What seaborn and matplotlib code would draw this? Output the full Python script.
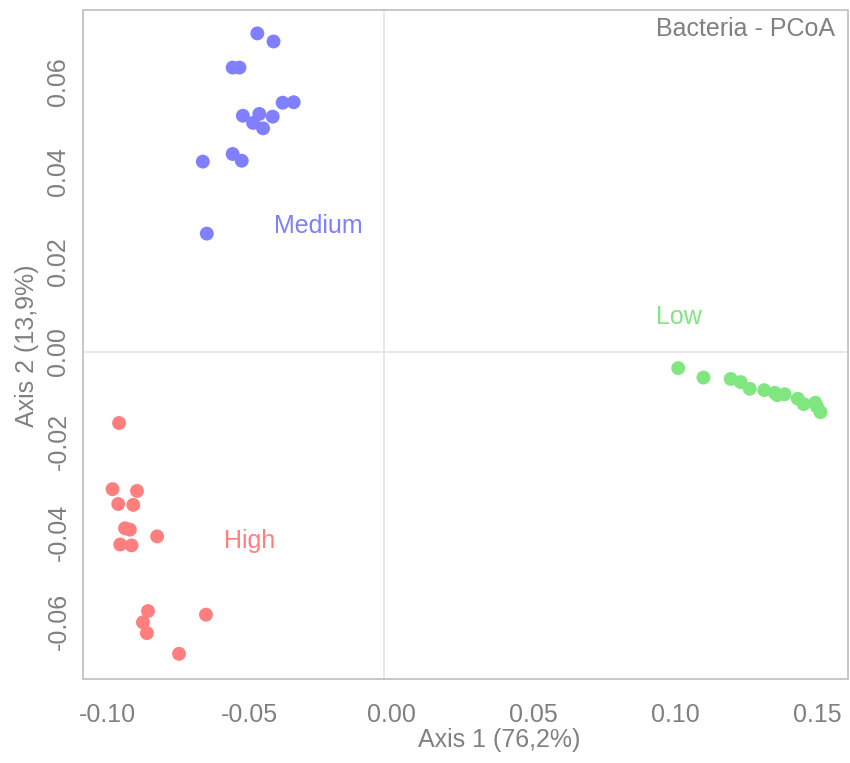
import matplotlib
matplotlib.use("Agg")
import matplotlib.pyplot as plt
from matplotlib.transforms import ScaledTranslation
from matplotlib.patches import Rectangle
import seaborn as sns
import pandas as pd

# ---- data ----
medium_x = [-0.0446, -0.0389, -0.0533, -0.0509, -0.0357, -0.0318, -0.0497, -0.0439,
            -0.0392, -0.0461, -0.0426, -0.0533, -0.0501, -0.0638, -0.0624]
medium_y = [0.0708, 0.0690, 0.0632, 0.0632, 0.0554, 0.0555, 0.0525, 0.0529,
            0.0523, 0.0509, 0.0497, 0.0440, 0.0425, 0.0423, 0.0263]
high_x = [-0.0933, -0.0956, -0.0870, -0.0936, -0.0883, -0.0912, -0.0895, -0.0929,
          -0.0889, -0.0799, -0.0831, -0.0849, -0.0835, -0.0627, -0.0722]
high_y = [-0.0158, -0.0305, -0.0309, -0.0338, -0.0340, -0.0392, -0.0395, -0.0428,
          -0.0430, -0.0410, -0.0576, -0.0601, -0.0625, -0.0584, -0.0671]
low_x = [0.1036, 0.1125, 0.1221, 0.1256, 0.1288, 0.1339, 0.1376, 0.1385,
         0.1411, 0.1457, 0.1478, 0.1519, 0.1525, 0.1537]
low_y = [-0.0036, -0.0057, -0.0060, -0.0067, -0.0082, -0.0085, -0.0091, -0.0096,
         -0.0094, -0.0104, -0.0116, -0.0113, -0.0122, -0.0134]

groups = ["High", "Low", "Medium"]
colors = {"High": "#FF7F7F", "Low": "#80E680", "Medium": "#7F7FFF"}
xticks = [-0.10, -0.05, 0.00, 0.05, 0.10, 0.15]
xticklabels = ["-0.10", "-0.05", "0.00", "0.05", "0.10", "0.15"]
yticks = [-0.06, -0.04, -0.02, 0.00, 0.02, 0.04, 0.06]
yticklabels = ["-0.06", "-0.04", "-0.02", "0.00", "0.02", "0.04", "0.06"]
group_label_pos = {"Medium": (-0.0231, 0.028), "High": (-0.0472, -0.042), "Low": (0.1039, 0.0078)}

df = pd.DataFrame({
    "x": medium_x + high_x + low_x,
    "y": medium_y + high_y + low_y,
    "group": ["Medium"] * len(medium_x) + ["High"] * len(high_x) + ["Low"] * len(low_x),
})

sns.set_style("white")
plt.rcParams["font.family"] = ["Liberation Sans", "DejaVu Sans"]
plt.rcParams["axes.unicode_minus"] = False

TXT = "#808080"
FS = 18

fig = plt.figure(figsize=(8.5, 7.63), dpi=100)
ax = fig.add_axes([83 / 850, 1 - 679 / 763, 765 / 850, 669 / 763])

ax.axhline(0, color="#E6E6E6", lw=1.3, zorder=0)
ax.axvline(0, color="#E6E6E6", lw=1.3, zorder=0)

sns.scatterplot(data=df, x="x", y="y", hue="group", palette=colors, s=100,
                linewidth=0, legend=False, ax=ax, zorder=3)

for g in groups:
    px, py = group_label_pos[g]
    ax.text(px, py, g, color=colors[g], fontsize=FS, ha="center", va="center")

ax.text(0.983, 0.972, "Bacteria - PCoA", transform=ax.transAxes, color=TXT,
        fontsize=FS, ha="right", va="center")

ax.set_xlim(-0.106, 0.1634)
ax.set_ylim(-0.0727, 0.076)
ax.set_xticks(xticks)
ax.set_xticklabels(xticklabels)
ax.set_yticks(yticks)
ax.set_yticklabels(yticklabels, rotation=90, va="center")

for sp in ax.spines.values():
    sp.set_color("none")
ax.add_patch(Rectangle((0, 0), 1, 1, transform=ax.transAxes, fill=False,
                       ec="#BEBEBE", lw=1.2, clip_on=False, zorder=5))

ax.tick_params(axis="both", direction="out", length=6, width=1, color="#999999",
               labelcolor=TXT, labelsize=FS)
ax.tick_params(axis="x", pad=11)
ax.tick_params(axis="y", pad=3)

off = ScaledTranslation(7 / 100, 0, fig.dpi_scale_trans)
for lbl in ax.get_xticklabels():
    lbl.set_transform(lbl.get_transform() + off)

ax.set_xlabel("Axis 1 (76,2%)", color=TXT, fontsize=FS, va="center")
ax.set_ylabel("Axis 2 (13,9%)", color=TXT, fontsize=FS, va="center")
ax.xaxis.set_label_coords(0.544, -0.0912)
ax.yaxis.set_label_coords(-0.0732, 0.498)

fig.savefig("out.png", dpi=100)
